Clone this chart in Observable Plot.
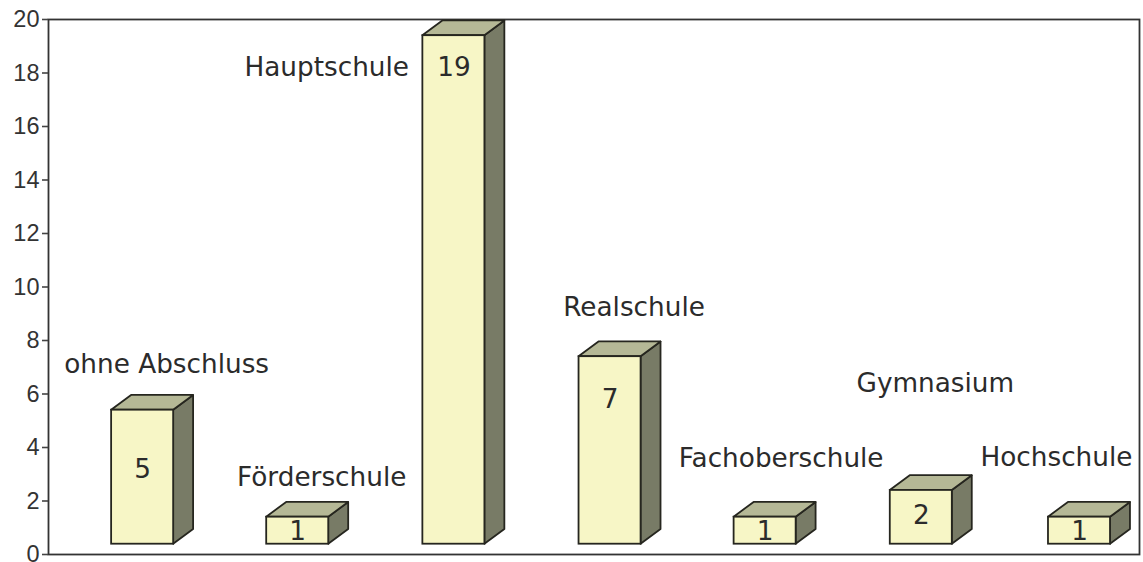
<!DOCTYPE html>
<html><head><meta charset="utf-8">
<script src="https://cdn.jsdelivr.net/npm/d3@7"></script>
<script src="https://cdn.jsdelivr.net/npm/@observablehq/plot@0.6"></script>
<style>html,body{margin:0;padding:0;background:#fff}svg{display:block}</style>
</head><body><div id="chart"></div>
<script>
const categories = ["ohne Abschluss","Förderschule","Hauptschule","Realschule","Fachoberschule","Gymnasium","Hochschule"];
const values = [5,1,19,7,1,2,1];
const yTicks = [0,2,4,6,8,10,12,14,16,18,20];
// annotation anchors and bar starts, in axis units
const barLeft = [0.405,1.40,2.402,3.404,4.399,5.401,6.416];
const labelX = [0.758,1.753,1.785,3.757,4.701,5.69,6.467];
const labelY = [7.10,2.88,18.2,9.23,3.59,6.39,3.63];
const valueY = [3.18,0.86,18.2,5.79,0.86,1.46,0.86];

const barW = 0.398, depthX = 0.128, depthY = 0.55, lift = 0.385;
const rows = values.map((v,i)=>({i,v,l:barLeft[i],r:barLeft[i]+barW,b:lift,t:v+lift+0.01}));
const side = rows.flatMap(d=>[
  {i:d.i,x:d.r,y1:d.b,y2:d.t},
  {i:d.i,x:d.r+depthX,y1:d.b+depthY,y2:d.t+depthY}]);
const top_ = rows.flatMap(d=>[
  {i:d.i,y:d.t,x1:d.l,x2:d.r},
  {i:d.i,y:d.t+depthY,x1:d.l+depthX,x2:d.r+depthX}]);
const labels = categories.map((c,i)=>({c,x:labelX[i],y:labelY[i]}));
const nums = values.map((v,i)=>({v,x:barLeft[i]+barW/2,y:valueY[i]}));
const ink = "#26261f";

const chart = Plot.plot({
  width:1143,height:562,marginLeft:48,marginRight:4,marginTop:19,marginBottom:8,
  x:{domain:[0,7],axis:null},
  y:{domain:[0,20]},
  style:{background:"#fff"},
  marks:[
    Plot.frame({stroke:"#333",strokeWidth:1.8}),
    Plot.axisY({ticks:yTicks,label:null,tickSize:6,tickPadding:3,fontSize:23.5,
      fontFamily:"Liberation Sans",color:"#333",stroke:"#444",strokeWidth:1.6}),
    Plot.areaY(side,{x:"x",y1:"y1",y2:"y2",z:"i",fill:"#787b66",stroke:ink,strokeWidth:1.8}),
    Plot.areaX(top_,{y:"y",x1:"x1",x2:"x2",z:"i",fill:"#b5b896",stroke:ink,strokeWidth:1.8}),
    Plot.rect(rows,{x1:"l",x2:"r",y1:"b",y2:"t",fill:"#f7f6c6",stroke:ink,strokeWidth:1.8}),
    Plot.text(labels,{x:"x",y:"y",text:"c",fontFamily:"DejaVu Sans",fontSize:26.3,fill:"#2b2b2b"}),
    Plot.text(nums,{x:"x",y:"y",text:"v",fontFamily:"DejaVu Sans",fontSize:26.3,fill:"#2b2b2b"})
  ]
});
document.getElementById("chart").append(chart);
</script></body></html>
